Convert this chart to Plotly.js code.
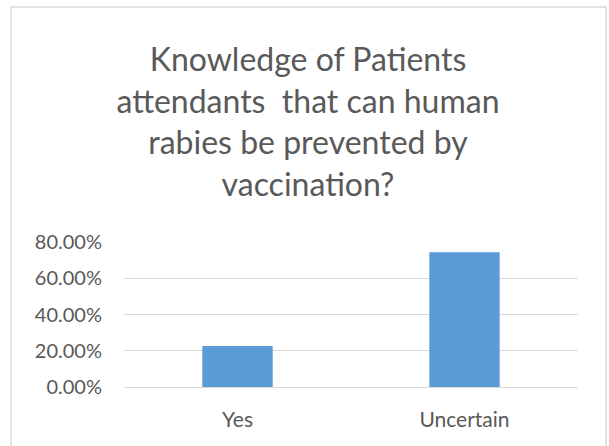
<!DOCTYPE html>
<html>
<head>
<meta charset="utf-8">
<script src="https://cdn.plot.ly/plotly-3.0.1.min.js"></script>
<style>html,body{margin:0;padding:0;background:#fff;}#chart{width:609px;height:446px;}</style>
</head>
<body>
<div id="chart"></div>
<script>
const categories = ["Yes", "Uncertain"];
const values = [0.226, 0.743];
const tickValues = [0, 0.2, 0.4, 0.6, 0.8];
const tickLabels = ["0.00%", "20.00%", "40.00%", "60.00%", "80.00%"];
const titleText = "Knowledge of Patients<br>attendants  that can human<br>rabies be prevented by<br>vaccination?";

const L = 124, R = 31, T = 242, B = 59;
const W = 609, H = 446;
const pw = W - L - R, ph = H - T - B;
function px(x) { return (x - L) / pw; }
function py(y) { return (H - B - y) / ph; }

const trace = {
  type: "bar",
  x: categories,
  y: values,
  marker: { color: "#5B9BD5" },
  width: 0.31,
  hoverinfo: "none"
};

const layout = {
  width: W, height: H,
  margin: { l: L, r: R, t: T, b: B, pad: 0 },
  paper_bgcolor: "#ffffff",
  plot_bgcolor: "#ffffff",
  font: { family: "Lato, 'Open Sans', sans-serif", color: "#595959" },
  title: {
    text: titleText,
    font: { size: 32, color: "#595959", family: "Lato, sans-serif" },
    xref: "container", yref: "container",
    x: 308 / W, xanchor: "center",
    y: 1 - 71 / H, yanchor: "top"
  },
  showlegend: false,
  xaxis: {
    type: "category",
    showgrid: false, zeroline: false, showline: false,
    ticks: "", tickfont: { size: 21, color: "#595959" },
    ticklabelstandoff: 18,
    fixedrange: true
  },
  yaxis: {
    range: [0, 0.8],
    tickvals: tickValues,
    ticktext: tickLabels,
    showgrid: true, gridcolor: "#D9D9D9", gridwidth: 1,
    zeroline: true, zerolinecolor: "#D9D9D9", zerolinewidth: 1,
    showline: false, ticks: "",
    tickfont: { size: 20, color: "#595959" },
    ticklabelstandoff: 21,
    fixedrange: true
  },
  shapes: [{
    type: "rect", xref: "paper", yref: "paper",
    x0: px(11), x1: px(606), y0: py(452), y1: py(7),
    line: { color: "#D9D9D9", width: 1.5 },
    fillcolor: "rgba(0,0,0,0)",
    layer: "below"
  }]
};

Plotly.newPlot("chart", [trace], layout, { displayModeBar: false, staticPlot: true });
</script>
</body>
</html>
